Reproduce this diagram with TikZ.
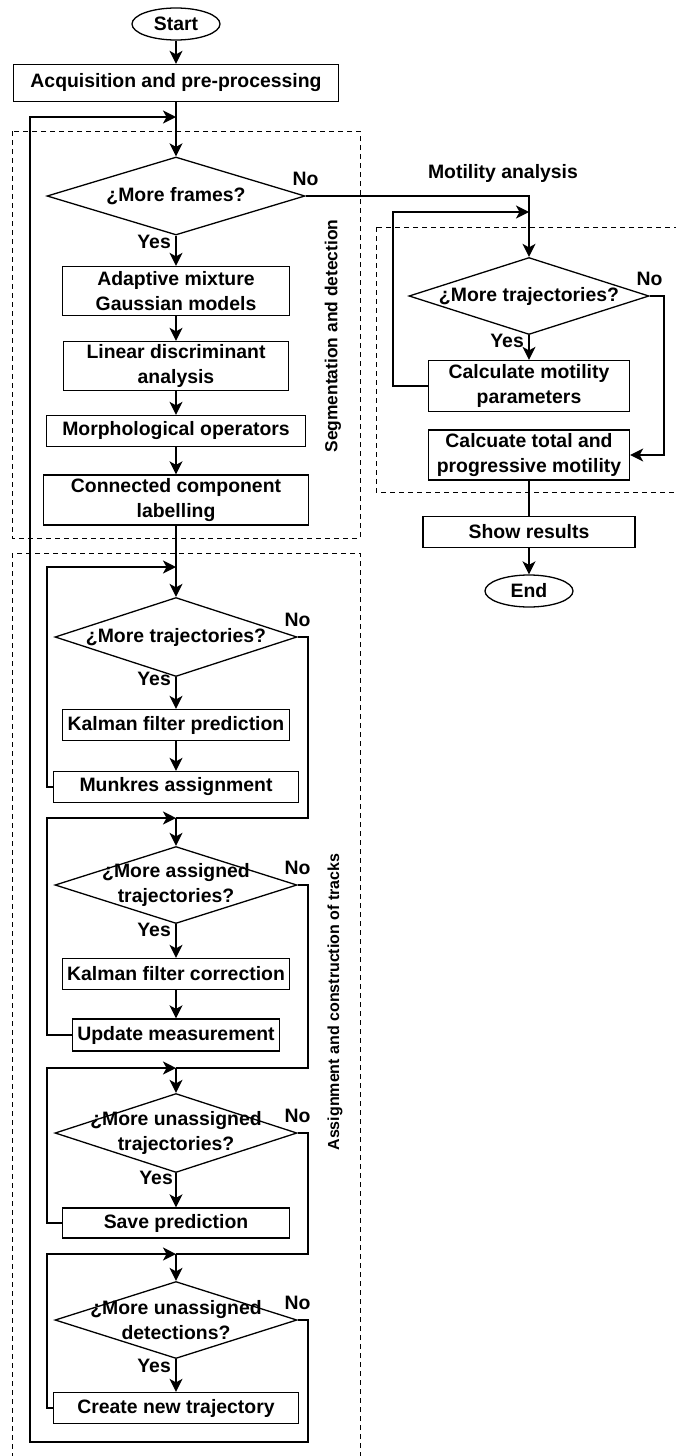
\documentclass[tikz,border=0pt]{standalone}
\usepackage{fontspec}
\setmainfont{Liberation Sans}
\usetikzlibrary{arrows.meta,positioning,shapes.geometric}

\begin{document}
\begin{tikzpicture}[
  x=1pt, y=-1pt,
  every node/.style={align=center, inner sep=0pt,
                     font=\fontsize{19.4}{24.5}\selectfont\bfseries},
  box/.style={draw, line width=1.3pt},
  dec/.style={diamond, draw, line width=1.3pt},
  term/.style={ellipse, draw, line width=1.3pt, minimum width=88pt, minimum height=32pt},
  arr/.style={-{Stealth[length=13pt,width=13pt,inset=3.5pt]}, line width=1.6pt},
  conn/.style={line width=1.6pt},
  grp/.style={line width=1pt, dash pattern=on 5pt off 4pt},
  yes/.style={anchor=north east},
  no/.style={above=10pt},
]
  \useasboundingbox (0,0) rectangle (675,1456);

  % Group frames
  \draw[grp] (12,131) rectangle (360,538);
  \draw[grp] (12,553) rectangle (360,1470);
  \draw[grp] (376,227) rectangle (690,492);
  \node[rotate=90, font=\fontsize{17.4}{20}\selectfont\bfseries] (lseg) at (333,336)
    {Segmentation and detection};
  \node[rotate=90, font=\fontsize{16}{19}\selectfont\bfseries] (lasg) at (335,1002)
    {Assignment and construction of tracks};
  \node (lmot) at (503,173) {Motility analysis};

  % Start and acquisition
  \node[term] (start) at (176,24) {Start};
  \node[box, minimum width=325pt, minimum height=37pt] (acq) at (176,83)
    {Acquisition and pre-processing};

  % Segmentation and detection
  \node[dec, minimum width=258pt, minimum height=78pt,
        label={center:{¿More frames?}}] (d1) at (176,196) {};
  \node[box, minimum width=227pt, minimum height=49pt] (amg) at (176,291)
    {Adaptive mixture\\Gaussian models};
  \node[box, minimum width=225pt, minimum height=49pt] (lda) at (176,366)
    {Linear discriminant\\analysis};
  \node[box, minimum width=259pt, minimum height=31pt] (morph) at (176,431)
    {Morphological operators};
  \node[box, minimum width=265pt, minimum height=50pt] (ccl) at (176,500)
    {Connected component\\labelling};

  % Assignment and construction of tracks
  \node[dec, minimum width=242pt, minimum height=79pt,
        label={center:{¿More trajectories?}}] (d2) at (176,637) {};
  \node[box, minimum width=227pt, minimum height=31pt] (kfp) at (176,725)
    {Kalman filter prediction};
  \node[box, minimum width=245pt, minimum height=31pt] (munk) at (176,787)
    {Munkres assignment};
  \node[dec, minimum width=242pt, minimum height=77pt,
        label={center:{¿More assigned\\trajectories?}}] (d3) at (176,885) {};
  \node[box, minimum width=227pt, minimum height=31pt] (kfc) at (176,974)
    {Kalman filter correction};
  \node[box, minimum width=207pt, minimum height=32pt] (upd) at (176,1035)
    {Update measurement};
  \node[dec, minimum width=242pt, minimum height=79pt,
        label={center:{¿More unassigned\\trajectories?}}] (d4) at (176,1133) {};
  \node[box, minimum width=227pt, minimum height=30pt] (save) at (176,1223)
    {Save prediction};
  \node[dec, minimum width=242pt, minimum height=77pt,
        label={center:{¿More unassigned\\detections?}}] (d5) at (176,1320) {};
  \node[box, minimum width=245pt, minimum height=31pt] (cnt) at (176,1408)
    {Create new trajectory};

  % Motility analysis
  \node[dec, minimum width=240pt, minimum height=77pt,
        label={center:{¿More trajectories?}}] (d6) at (529,296) {};
  \node[box, minimum width=201pt, minimum height=51pt] (cmp) at (529,386)
    {Calculate motility\\parameters};
  \node[box, minimum width=201pt, minimum height=50pt] (ctp) at (529,455)
    {Calcuate total and\\progressive motility};
  \node[box, minimum width=212pt, minimum height=31pt] (show) at (529,532)
    {Show results};
  \node[term] (end) at (529,591) {End};

  % Junctions and loop columns
  \coordinate (j1) at (176,117);
  \coordinate (j2) at (176,567);
  \coordinate (j3) at (176,818);
  \coordinate (j4) at (176,1068);
  \coordinate (j5) at (176,1254);
  \coordinate (jm) at (529,212);
  \coordinate (lx) at (47,0);
  \coordinate (rx) at (308,0);
  \coordinate (lx2) at (393,0);
  \coordinate (rx2) at (664,0);
  \coordinate (bl) at (30,1442);
  \coordinate (br) at (308,1442);

  % Main flow
  \draw[arr] (start) -- (acq);
  \draw[conn] (acq) -- (j1);
  \draw[arr] (j1) -- (d1.north);
  \draw[arr] (d1.south) -- (amg);
  \draw[arr] (amg) -- (lda);
  \draw[arr] (lda) -- (morph);
  \draw[arr] (morph) -- (ccl);
  \draw[conn] (ccl) -- (j2);
  \draw[arr] (j2) -- (d2.north);
  \draw[arr] (d2.south) -- (kfp);
  \draw[arr] (kfp) -- (munk);
  \draw[arr] (j3) -- (d3.north);
  \draw[arr] (d3.south) -- (kfc);
  \draw[arr] (kfc) -- (upd);
  \draw[arr] (j4) -- (d4.north);
  \draw[arr] (d4.south) -- (save);
  \draw[arr] (j5) -- (d5.north);
  \draw[arr] (d5.south) -- (cnt);

  % Loops back
  \draw[arr] (munk.west) -- (munk.west -| lx) |- (j2);
  \draw[arr] (upd.west) -- (upd.west -| lx) |- (j3);
  \draw[arr] (save.west) -- (save.west -| lx) |- (j4);
  \draw[arr] (cnt.west) -- (cnt.west -| lx) |- (j5);

  % No branches
  \draw[conn] (d2.east) -- (d2.east -| rx) |- (j3);
  \draw[conn] (d3.east) -- (d3.east -| rx) |- (j4);
  \draw[conn] (d4.east) -- (d4.east -| rx) |- (j5);
  \draw[arr] (d5.east) -| (br) -- (bl) |- (j1);
  \draw[arr] (d1.east) -| (d6.north);

  % Motility flow
  \draw[arr] (cmp.west) -- (cmp.west -| lx2) |- (jm);
  \draw[arr] (d6.south) -- (cmp);
  \draw[arr] (d6.east) -- (d6.east -| rx2) |- (ctp.east);
  \draw[conn] (ctp) -- (show);
  \draw[arr] (show) -- (end);

  % Yes / No labels
  \node[no] (n1) at (d1.east) {No};
  \node[no] (n2) at (d2.east) {No};
  \node[no] (n3) at (d3.east) {No};
  \node[no] (n4) at (d4.east) {No};
  \node[no] (n5) at (d5.east) {No};
  \node[no] (n6) at (d6.east) {No};
  \node[yes] (y1) at ([xshift=-5pt,yshift=1pt]d1.south) {Yes};
  \node[yes] (y2) at ([xshift=-5pt,yshift=5pt]d2.south) {Yes};
  \node[yes] (y3) at ([xshift=-5pt,yshift=1pt]d3.south) {Yes};
  \node[yes] (y4) at ([xshift=-3pt,yshift=2pt]d4.south) {Yes};
  \node[yes] (y5) at ([xshift=-5pt,yshift=0pt]d5.south) {Yes};
  \node[yes] (y6) at ([xshift=-5pt,yshift=1pt]d6.south) {Yes};
\end{tikzpicture}
\end{document}
